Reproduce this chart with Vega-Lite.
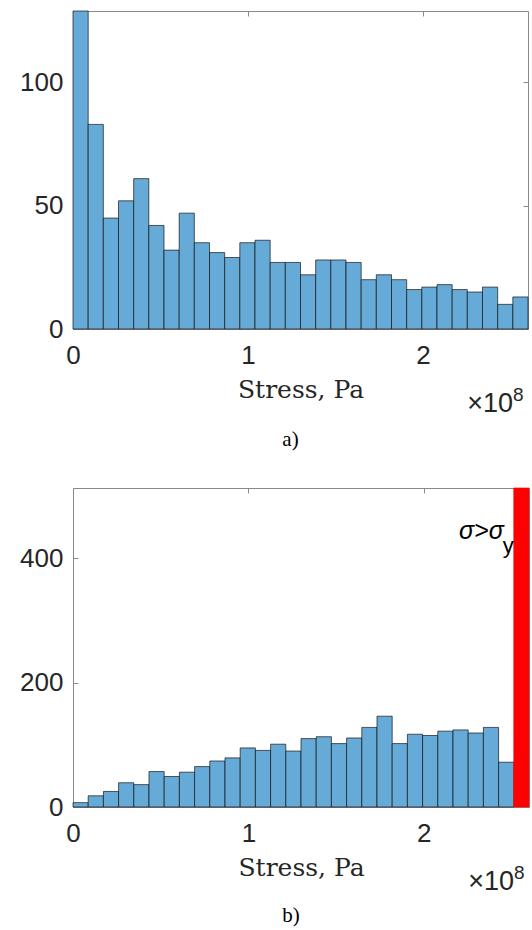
{
  "$schema": "https://vega.github.io/schema/vega-lite/v6.json",
  "padding": {"left": 5, "top": 10, "right": 5, "bottom": 5},
  "background": "white",
  "config": {
    "view": {"stroke": "#8a8a8a", "strokeWidth": 1},
    "axis": {"grid": false, "domain": false, "tickColor": "#8a8a8a", "tickSize": -5, "labelFont": "Liberation Sans", "labelFontSize": 26, "labelColor": "#262626", "labelFlush": false, "labelOverlap": false},
    "title": {"font": "Liberation Serif", "fontSize": 21, "fontWeight": "normal", "color": "#000000"}
  },
  "datasets": {
    "a": [
      {"lo": 0, "hi": 0.0867, "count": 129},
      {"lo": 0.0867, "hi": 0.1733, "count": 83},
      {"lo": 0.1733, "hi": 0.26, "count": 45},
      {"lo": 0.26, "hi": 0.3467, "count": 52},
      {"lo": 0.3467, "hi": 0.4333, "count": 61},
      {"lo": 0.4333, "hi": 0.52, "count": 42},
      {"lo": 0.52, "hi": 0.6067, "count": 32},
      {"lo": 0.6067, "hi": 0.6933, "count": 47},
      {"lo": 0.6933, "hi": 0.78, "count": 35},
      {"lo": 0.78, "hi": 0.8667, "count": 31},
      {"lo": 0.8667, "hi": 0.9533, "count": 29},
      {"lo": 0.9533, "hi": 1.04, "count": 35},
      {"lo": 1.04, "hi": 1.1267, "count": 36},
      {"lo": 1.1267, "hi": 1.2133, "count": 27},
      {"lo": 1.2133, "hi": 1.3, "count": 27},
      {"lo": 1.3, "hi": 1.3867, "count": 22},
      {"lo": 1.3867, "hi": 1.4733, "count": 28},
      {"lo": 1.4733, "hi": 1.56, "count": 28},
      {"lo": 1.56, "hi": 1.6467, "count": 27},
      {"lo": 1.6467, "hi": 1.7333, "count": 20},
      {"lo": 1.7333, "hi": 1.82, "count": 22},
      {"lo": 1.82, "hi": 1.9067, "count": 20},
      {"lo": 1.9067, "hi": 1.9933, "count": 16},
      {"lo": 1.9933, "hi": 2.08, "count": 17},
      {"lo": 2.08, "hi": 2.1667, "count": 18},
      {"lo": 2.1667, "hi": 2.2533, "count": 16},
      {"lo": 2.2533, "hi": 2.34, "count": 15},
      {"lo": 2.34, "hi": 2.4267, "count": 17},
      {"lo": 2.4267, "hi": 2.5133, "count": 10},
      {"lo": 2.5133, "hi": 2.6, "count": 13}
    ],
    "b": [
      {"lo": 0, "hi": 0.0867, "count": 7, "region": "below yield"},
      {"lo": 0.0867, "hi": 0.1733, "count": 18, "region": "below yield"},
      {"lo": 0.1733, "hi": 0.26, "count": 25, "region": "below yield"},
      {"lo": 0.26, "hi": 0.3467, "count": 39, "region": "below yield"},
      {"lo": 0.3467, "hi": 0.4333, "count": 36, "region": "below yield"},
      {"lo": 0.4333, "hi": 0.52, "count": 57, "region": "below yield"},
      {"lo": 0.52, "hi": 0.6067, "count": 49, "region": "below yield"},
      {"lo": 0.6067, "hi": 0.6933, "count": 56, "region": "below yield"},
      {"lo": 0.6933, "hi": 0.78, "count": 65, "region": "below yield"},
      {"lo": 0.78, "hi": 0.8667, "count": 74, "region": "below yield"},
      {"lo": 0.8667, "hi": 0.9533, "count": 79, "region": "below yield"},
      {"lo": 0.9533, "hi": 1.04, "count": 95, "region": "below yield"},
      {"lo": 1.04, "hi": 1.1267, "count": 91, "region": "below yield"},
      {"lo": 1.1267, "hi": 1.2133, "count": 101, "region": "below yield"},
      {"lo": 1.2133, "hi": 1.3, "count": 90, "region": "below yield"},
      {"lo": 1.3, "hi": 1.3867, "count": 110, "region": "below yield"},
      {"lo": 1.3867, "hi": 1.4733, "count": 113, "region": "below yield"},
      {"lo": 1.4733, "hi": 1.56, "count": 102, "region": "below yield"},
      {"lo": 1.56, "hi": 1.6467, "count": 111, "region": "below yield"},
      {"lo": 1.6467, "hi": 1.7333, "count": 128, "region": "below yield"},
      {"lo": 1.7333, "hi": 1.82, "count": 146, "region": "below yield"},
      {"lo": 1.82, "hi": 1.9067, "count": 102, "region": "below yield"},
      {"lo": 1.9067, "hi": 1.9933, "count": 117, "region": "below yield"},
      {"lo": 1.9933, "hi": 2.08, "count": 115, "region": "below yield"},
      {"lo": 2.08, "hi": 2.1667, "count": 122, "region": "below yield"},
      {"lo": 2.1667, "hi": 2.2533, "count": 124, "region": "below yield"},
      {"lo": 2.2533, "hi": 2.34, "count": 119, "region": "below yield"},
      {"lo": 2.34, "hi": 2.4267, "count": 128, "region": "below yield"},
      {"lo": 2.4267, "hi": 2.5133, "count": 72, "region": "below yield"},
      {"lo": 2.5133, "hi": 2.6, "count": 513, "region": "above yield"}
    ]
  },
  "vconcat": [
    {
      "width": 455,
      "height": 318,
      "title": {"text": "a)", "orient": "bottom", "offset": 12, "dx": -10},
      "layer": [
        {
          "data": {"name": "a"},
          "mark": {"type": "bar", "fill": "#66AAD7", "stroke": "#111111", "strokeWidth": 0.8, "strokeOpacity": 0.85, "cornerRadius": 0},
          "encoding": {
            "x": {"field": "lo", "type": "quantitative", "scale": {"domain": [0, 2.6], "nice": false, "zero": false},
                  "axis": {"values": [0, 1, 2], "labelPadding": 18, "title": "Stress, Pa", "titleFont": "DejaVu Serif", "titleFontSize": 25, "titleFontWeight": "normal", "titleColor": "#262626", "titlePadding": 8, "minExtent": 40, "maxExtent": 40}},
            "x2": {"field": "hi"},
            "y": {"field": "count", "type": "quantitative", "scale": {"domain": [0, 129], "nice": false},
                  "axis": {"values": [0, 50, 100], "title": null, "labelPadding": 15, "minExtent": 67, "maxExtent": 67}},
            "y2": {"datum": 0}
          }
        },
        {
          "data": {"values": [{}]},
          "mark": {"type": "text", "text": "×10", "align": "right", "baseline": "alphabetic", "dx": -15, "dy": 83, "font": "Liberation Sans", "fontSize": 27, "color": "#262626"},
          "encoding": {
            "x": {"datum": 2.6, "type": "quantitative", "axis": {"orient": "top", "values": [0, 1, 2], "labels": false, "title": null, "minExtent": 0, "maxExtent": 0}},
            "y": {"datum": 0, "type": "quantitative", "axis": {"orient": "right", "values": [0, 50, 100], "labels": false, "title": null, "minExtent": 0, "maxExtent": 0}}
          }
        },
        {
          "data": {"values": [{}]},
          "mark": {"type": "text", "text": "8", "align": "left", "baseline": "alphabetic", "dx": -15, "dy": 72, "font": "Liberation Sans", "fontSize": 19, "color": "#262626"},
          "encoding": {
            "x": {"datum": 2.6, "type": "quantitative", "axis": null},
            "y": {"datum": 0, "type": "quantitative", "axis": null}
          }
        }
      ],
      "resolve": {"axis": {"x": "independent", "y": "independent"}}
    },
    {
      "width": 456,
      "height": 319,
      "title": {"text": "b)", "orient": "bottom", "offset": 10, "dx": -10},
      "layer": [
        {
          "data": {"name": "b"},
          "mark": {"type": "bar", "strokeWidth": 0.8, "strokeOpacity": 0.85},
          "encoding": {
            "x": {"field": "lo", "type": "quantitative", "scale": {"domain": [0, 2.6], "nice": false, "zero": false},
                  "axis": {"values": [0, 1, 2], "labelPadding": 18, "title": "Stress, Pa", "titleFont": "DejaVu Serif", "titleFontSize": 25, "titleFontWeight": "normal", "titleColor": "#262626", "titlePadding": 8, "minExtent": 40, "maxExtent": 40}},
            "x2": {"field": "hi"},
            "y": {"field": "count", "type": "quantitative", "scale": {"domain": [0, 513], "nice": false},
                  "axis": {"values": [0, 200, 400], "title": null, "labelPadding": 15, "minExtent": 67, "maxExtent": 67}},
            "y2": {"datum": 0},
            "fill": {"field": "region", "type": "nominal", "scale": {"domain": ["below yield", "above yield"], "range": ["#66AAD7", "#FF0000"]}, "legend": null},
            "stroke": {"field": "region", "type": "nominal", "scale": {"domain": ["below yield", "above yield"], "range": ["#111111", "#FF0000"]}, "legend": null}
          }
        },
        {
          "data": {"values": [{}]},
          "mark": {"type": "text", "text": "×10", "align": "right", "baseline": "alphabetic", "dx": -15, "dy": 83, "font": "Liberation Sans", "fontSize": 27, "color": "#262626"},
          "encoding": {
            "x": {"datum": 2.6, "type": "quantitative", "axis": {"orient": "top", "values": [0, 1, 2], "labels": false, "title": null, "minExtent": 0, "maxExtent": 0}},
            "y": {"datum": 0, "type": "quantitative", "axis": {"orient": "right", "values": [0, 200, 400], "labels": false, "title": null, "minExtent": 0, "maxExtent": 0}}
          }
        },
        {
          "data": {"values": [{}]},
          "mark": {"type": "text", "text": "8", "align": "left", "baseline": "alphabetic", "dx": -15, "dy": 72, "font": "Liberation Sans", "fontSize": 19, "color": "#262626"},
          "encoding": {
            "x": {"datum": 2.6, "type": "quantitative", "axis": null},
            "y": {"datum": 0, "type": "quantitative", "axis": null}
          }
        },
        {
          "data": {"values": [{}]},
          "mark": {"type": "text", "text": "σ>σ", "align": "right", "baseline": "alphabetic", "dx": -10, "font": "Liberation Sans", "fontStyle": "italic", "fontSize": 25, "color": "#000000"},
          "encoding": {
            "x": {"datum": 2.5133, "type": "quantitative", "axis": null},
            "y": {"datum": 431, "type": "quantitative", "axis": null}
          }
        },
        {
          "data": {"values": [{}]},
          "mark": {"type": "text", "text": "y", "align": "right", "baseline": "alphabetic", "dx": 0, "font": "Liberation Sans", "fontSize": 22, "color": "#000000"},
          "encoding": {
            "x": {"datum": 2.5133, "type": "quantitative", "axis": null},
            "y": {"datum": 408, "type": "quantitative", "axis": null}
          }
        }
      ],
      "resolve": {"axis": {"x": "independent", "y": "independent"}}
    }
  ],
  "spacing": 159,
  "bounds": "flush"
}
